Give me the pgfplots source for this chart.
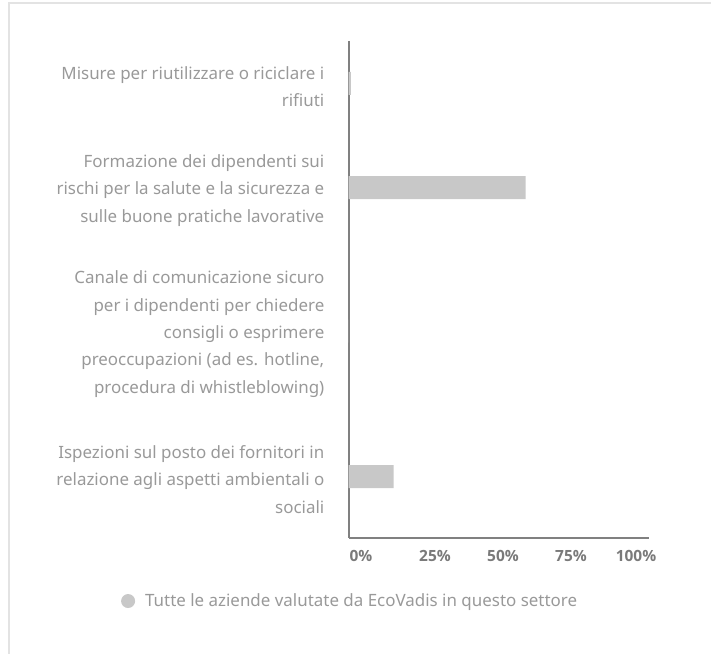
\documentclass[border=0pt]{standalone}
\usepackage{fontspec}
\setmainfont{Noto Sans}
\newfontfamily\tickfont{Open Sans}
\usepackage{pgfplots}
\pgfplotsset{compat=1.18}
\definecolor{barc}{HTML}{C8C8C8}
\definecolor{labc}{HTML}{999999}
\definecolor{tickc}{HTML}{7A7A7A}
\definecolor{axc}{HTML}{808080}
\definecolor{frc}{HTML}{E3E3E3}
\begin{document}
\begin{tikzpicture}
\useasboundingbox (0bp,0bp) rectangle (711bp,654bp);
\draw[frc, line width=2bp] (9bp,0bp) -- (9bp,651bp) -- (711bp,651bp);
\begin{axis}[
  at={(348.5bp,116bp)}, anchor=south west,
  scale only axis, width=300bp, height=497bp,
  xmin=0, xmax=100, ymin=41, ymax=538, y dir=reverse,
  axis x line=bottom, axis y line=left,
  axis line style={-, axc, line width=2bp},
  xtick={4.17,28.83,51.5,74.17,95.83},
  xticklabels={0\%,25\%,50\%,75\%,100\%},
  xticklabel style={font=\fontsize{15.5}{17}\selectfont\tickfont\bfseries, text=tickc, inner sep=0pt, anchor=north, yshift=-12.5bp},
  ytick={83.5,187.5,331,476.5},
  yticklabels={{Misure per riutilizzare o riciclare i\\rifiuti},
    {Formazione dei dipendenti sui\\rischi per la salute e la sicurezza e\\sulle buone pratiche lavorative},
    {Canale di comunicazione sicuro\\per i dipendenti per chiedere\\consigli o esprimere\\preoccupazioni (ad es. hotline,\\procedura di whistleblowing)},
    {Ispezioni sul posto dei fornitori in\\relazione agli aspetti ambientali o\\sociali}},
  yticklabel style={font=\fontsize{17}{27.5}\selectfont, text=labc, align=right, inner sep=0pt, anchor=east, xshift=-24bp, yshift=-3bp},
  major tick length=0pt,
  tick style={draw=none},
  xbar, bar width=23bp,
  legend style={at={(axis description cs:-0.758,-0.1268)}, anchor=west, draw=none, fill=none, inner sep=0pt, outer sep=0pt,
    font=\fontsize{17}{19}\selectfont, text=labc,
    nodes={inner sep=0pt}, /tikz/every odd column/.append style={column sep=10bp}},
  legend image code/.code={\fill[barc] (7bp,0bp) circle (7bp);},
  clip=false,
]
\addplot[fill=barc, draw=none] coordinates {(0.8,83.5) (59,187.5) (0,331) (15,476.5)};
\addlegendentry{Tutte le aziende valutate da EcoVadis in questo settore}
\end{axis}
\end{tikzpicture}
\end{document}
